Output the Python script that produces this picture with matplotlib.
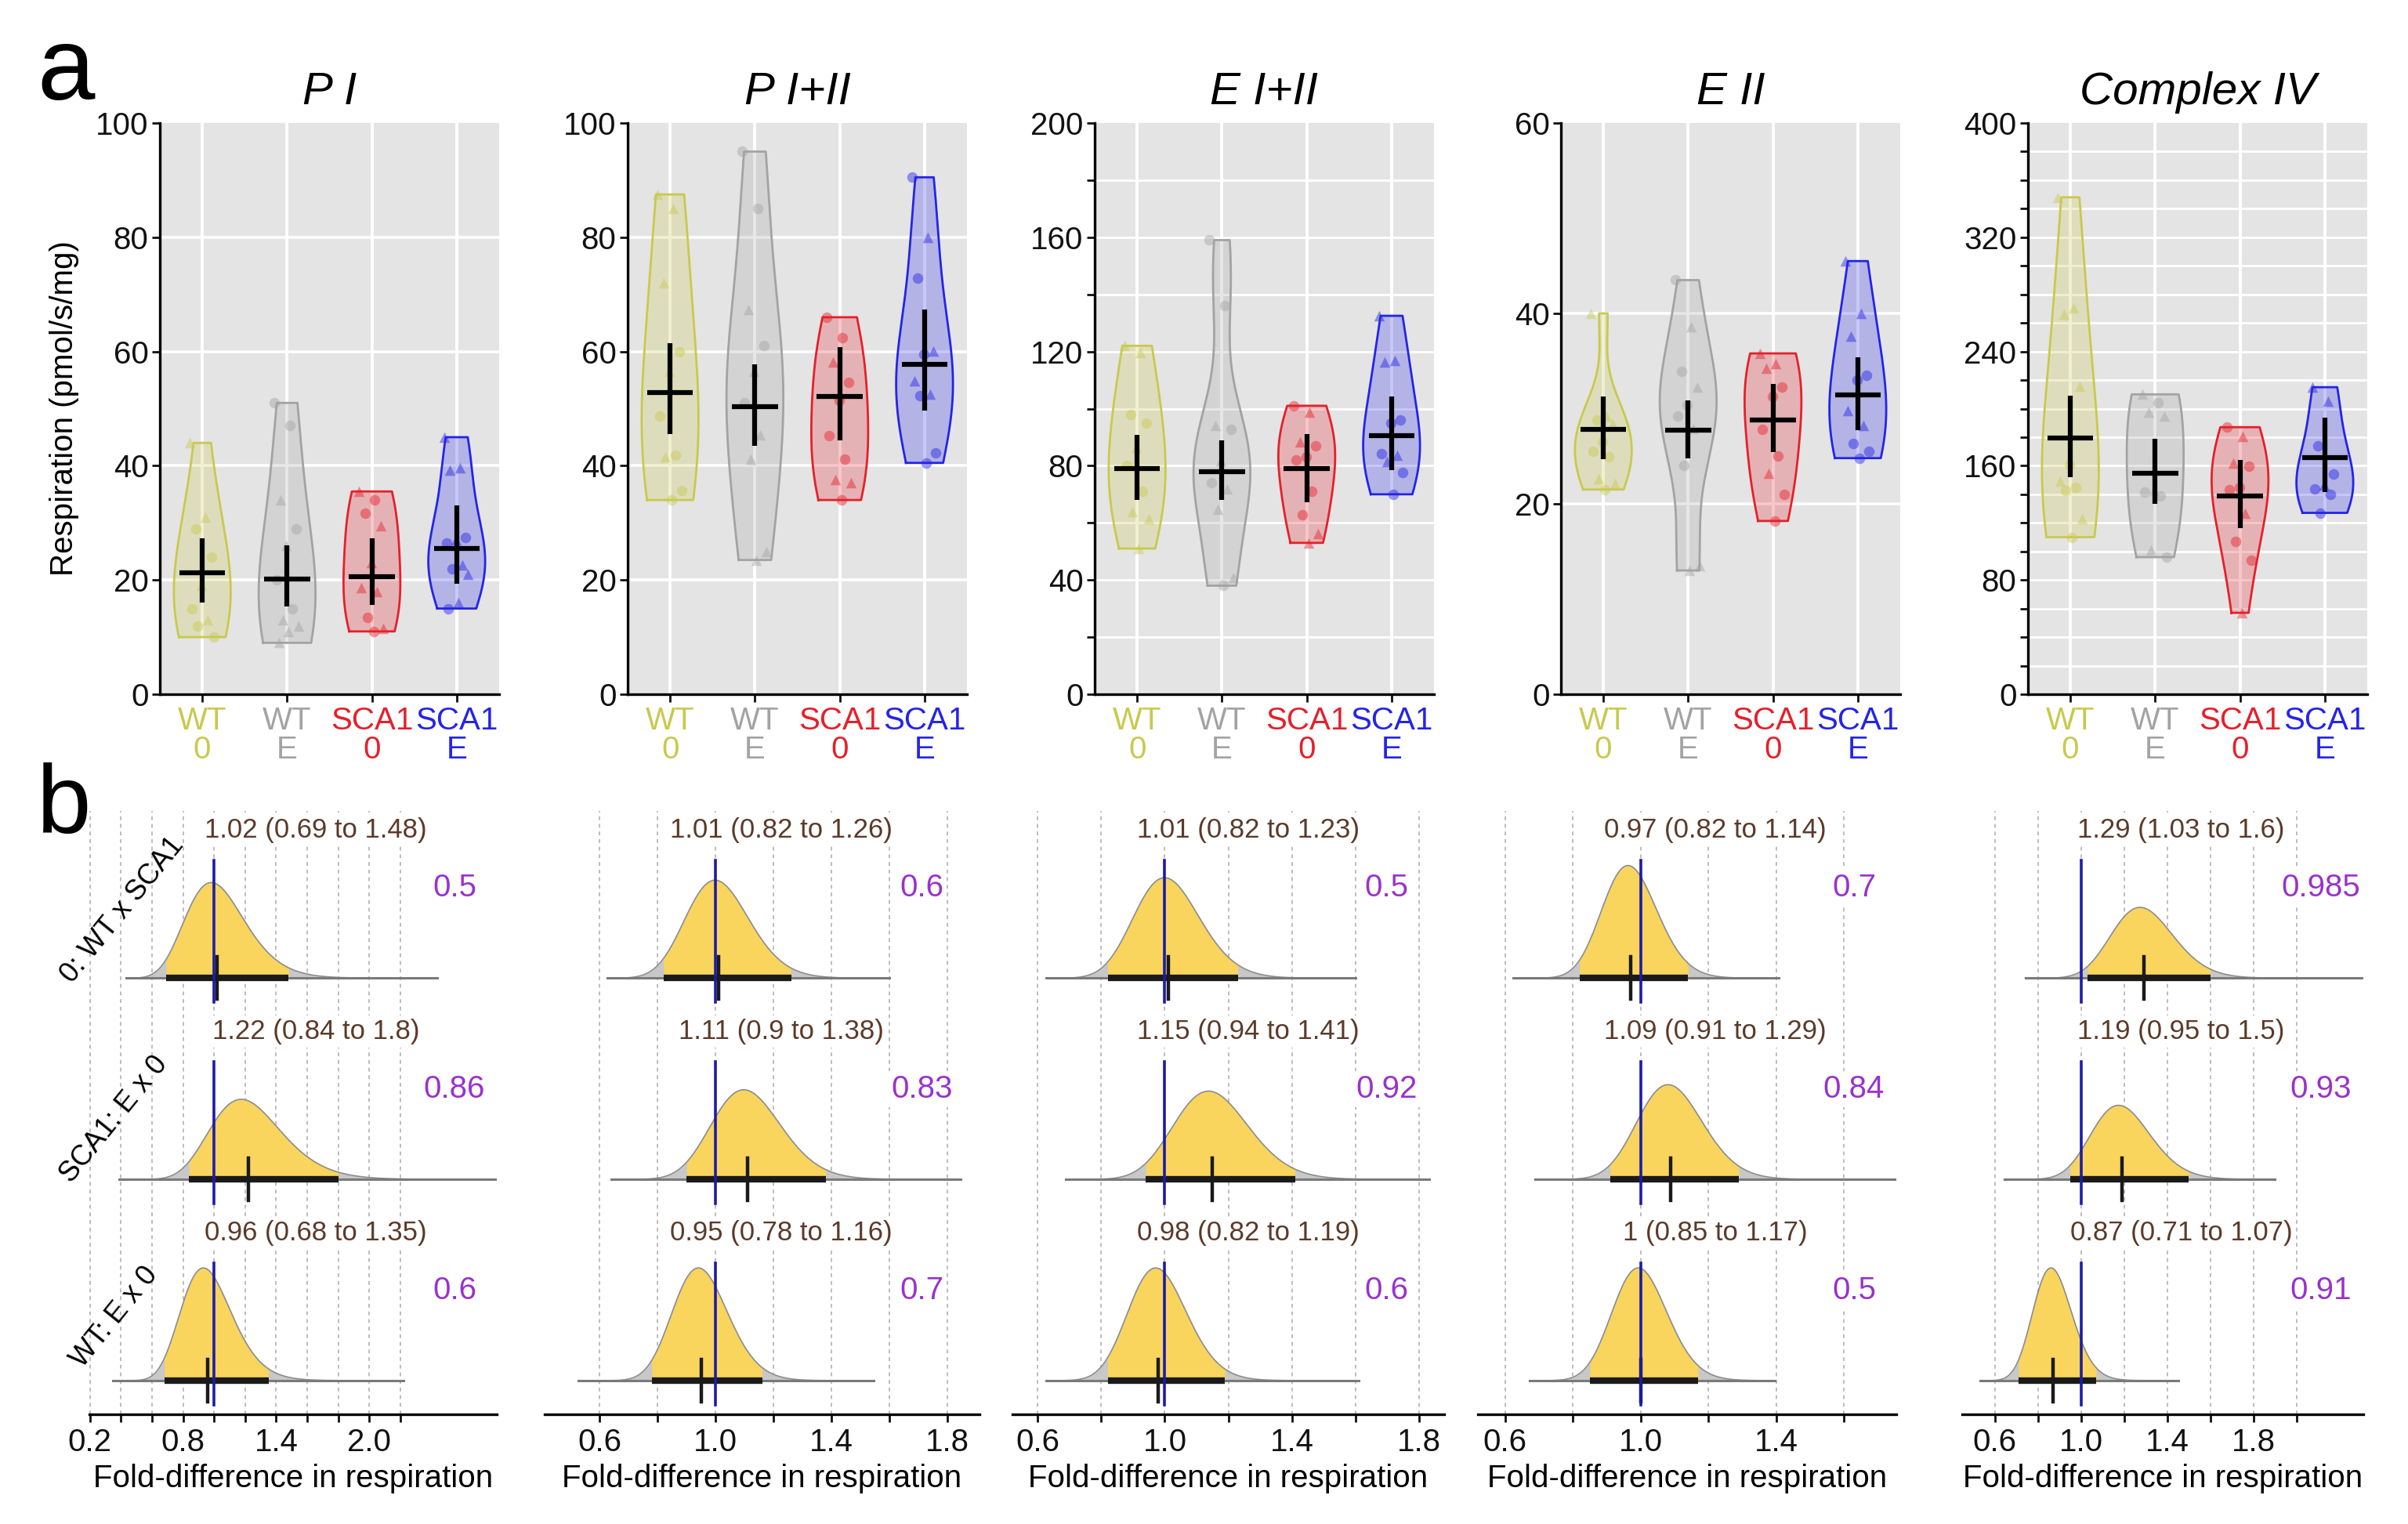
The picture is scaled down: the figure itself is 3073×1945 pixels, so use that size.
import numpy as np
import matplotlib
matplotlib.use("Agg")
import matplotlib.pyplot as plt

plt.rcParams['font.family'] = ['Liberation Sans', 'DejaVu Sans']

# ======================= DATA =======================
panel_titles = ["P I", "P I+II", "E I+II", "E II", "Complex IV"]
group_labels = ["WT\n0", "WT\nE", "SCA1\n0", "SCA1\nE"]
group_colors = ["#C9C94E", "#A3A3A3", "#E5202B", "#2424E8"]

# individual measurements (pmol/s/mg); groups WT0, WT E, SCA1 0, SCA1 E
pI_points = [[44, 31, 29, 24, 19, 15, 13, 12, 10],
             [51, 47, 34, 29, 26, 20, 15, 13, 12, 11, 9],
             [35.5, 34, 31.7, 29.5, 23, 18.6, 18, 13.4, 11.5, 11],
             [45, 39.6, 39.3, 27.5, 27, 26.5, 22.7, 22, 21, 16, 15]]
pI_shapes = ["ttoototoo", "oototootttt", "toottttoto", "tttotototto"]
pI_mean = [21.2, 20.1, 20.6, 25.5]
pI_lo = [16.0, 15.4, 15.7, 19.3]
pI_hi = [27.3, 26.0, 27.3, 33.0]

pI_II_points = [[87.5, 85, 72, 60, 56.5, 48.7, 41.8, 41.5, 35.6, 34],
                [95, 85, 67.3, 61.1, 56.5, 51, 45.4, 41.2, 25, 23.5],
                [66, 62.4, 58.2, 54.6, 51.4, 45.2, 41.2, 37.6, 37, 34],
                [90.5, 80, 72.8, 60.1, 59.5, 54.9, 52.6, 52.3, 42.2, 40.5]]
pI_II_shapes = ["tttotootoo", "ootototttt", "ootooootto", "ototottooo"]
pI_II_mean = [52.8, 50.3, 52.1, 57.7]
pI_II_lo = [45.6, 43.5, 44.5, 49.7]
pI_II_hi = [61.4, 57.8, 60.8, 67.3]

eI_II_points = [[122, 119.6, 98, 94.8, 86.3, 80, 71, 64, 61.5, 51],
                [159, 136, 94.1, 92.8, 81.7, 74, 72, 64.7, 41, 38],
                [101, 98.7, 88.3, 87, 83, 82, 71, 62.8, 56.3, 53],
                [132.5, 117, 116.3, 96.1, 95, 84.2, 83.6, 81.6, 77.6, 70]]
eI_II_shapes = ["ttootoottt", "oototottto", "ottooooott", "tttooottoo"]
eI_II_mean = [78.9, 77.8, 78.9, 90.6]
eI_II_lo = [68.0, 68.0, 67.3, 78.5]
eI_II_hi = [90.9, 88.9, 91.2, 104.2]

eII_points = [[40, 29.2, 28.8, 28.4, 26.5, 25.5, 24.9, 22.6, 22.1, 21.5],
              [43.5, 38.6, 33.9, 32.3, 30.4, 29.2, 27.9, 24, 13.5, 13],
              [35.8, 34.7, 34.2, 32.3, 31.3, 27.8, 25, 23.2, 21, 18.2],
              [45.5, 40, 37.6, 33.5, 33, 29.8, 28.2, 26.3, 25.5, 24.8]]
eII_shapes = ["ttotoootto", "ototootott", "tttooootoo", "tttoottooo"]
eII_mean = [27.8, 27.7, 28.8, 31.4]
eII_lo = [24.7, 24.8, 25.4, 27.7]
eII_hi = [31.3, 30.9, 32.6, 35.4]

civ_points = [[348, 270.6, 266, 215.7, 160.9, 149, 145, 142.5, 122.8, 110],
              [210, 204, 197.6, 195, 142.6, 141.3, 139, 100.7, 96],
              [187, 180.5, 162, 159.6, 145, 143, 126.9, 107, 94, 57],
              [215, 205, 173.9, 154.3, 146.5, 144, 140, 127]]
civ_shapes = ["ttttotooto", "totttooto", "ottoootoot", "ttootooo"]
civ_mean = [179.2, 155.0, 138.7, 165.6]
civ_lo = [151.8, 133.4, 116.4, 141.3]
civ_hi = [209.2, 179.0, 164.0, 193.5]

# y-axis scales of the violin panels: (max, tick step, label step)
violin_scales = [(100, 20, 20), (100, 20, 20), (200, 20, 40), (60, 20, 20), (400, 20, 80)]

# fold-difference comparisons (rows, top to bottom)
comparisons = ["0: WT x SCA1", "SCA1: E x 0", "WT: E x 0"]
fd_est = [[1.02, 1.22, 0.96], [1.01, 1.11, 0.95], [1.01, 1.15, 0.98],
          [0.97, 1.09, 1.00], [1.29, 1.19, 0.87]]
fd_lo = [[0.69, 0.84, 0.68], [0.82, 0.90, 0.78], [0.82, 0.94, 0.82],
         [0.82, 0.91, 0.85], [1.03, 0.95, 0.71]]
fd_hi = [[1.48, 1.80, 1.35], [1.26, 1.38, 1.16], [1.23, 1.41, 1.19],
         [1.14, 1.29, 1.17], [1.60, 1.50, 1.07]]
fd_prob = [[0.5, 0.86, 0.6], [0.6, 0.83, 0.7], [0.5, 0.92, 0.6],
           [0.7, 0.84, 0.5], [0.985, 0.93, 0.91]]
# range of the posterior draws (baseline extent) per row
fd_range = [[(0.436, 2.437), (0.39, 2.82), (0.35, 2.22)],
            [(0.625, 1.598), (0.641, 1.846), (0.527, 1.546)],
            [(0.626, 1.601), (0.689, 1.832), (0.626, 1.61)],
            [(0.624, 1.407), (0.688, 1.753), (0.672, 1.396)],
            [(0.741, 2.306), (0.643, 1.90), (0.531, 1.45)]]
# x axes of the fold-difference panels
fd_ticks = [np.arange(0.2, 2.21, 0.2), np.arange(0.6, 1.81, 0.2), np.arange(0.6, 1.81, 0.2),
            np.arange(0.6, 1.61, 0.2), np.arange(0.6, 2.01, 0.2)]
fd_tick_labels = [[0.2, 0.8, 1.4, 2.0], [0.6, 1.0, 1.4, 1.8], [0.6, 1.0, 1.4, 1.8],
                  [0.6, 1.0, 1.4], [0.6, 1.0, 1.4, 1.8]]

# ======================= LAYOUT =======================
W, H = 3073, 1945
top_lefts = [204, 801, 1397, 1992, 2588]
top_w, top_y0, top_y1 = 433, 157, 886
bot_x = [(114, 634), (695, 1250), (1292, 1843), (1886, 2420), (2504, 3016)]
bot_y0, bot_y1 = 1035, 1805
fd_xlim = [(0.197, 2.82), (0.41, 1.91), (0.52, 1.88), (0.52, 1.755), (0.448, 2.31)]
fd_est_x = [1.655, 1.225, 1.263, 1.22, 1.464]
fd_prob_x = [2.547, 1.711, 1.699, 1.63, 2.112]
VIOLIN_HALF = 0.335
BW_ADJUST = 1.5
PEAK = 0.56

fig = plt.figure(figsize=(W / 100, H / 100), dpi=100)


def px_axes(x0, y0, x1, y1):
    return fig.add_axes([x0 / W, 1 - y1 / H, (x1 - x0) / W, (y1 - y0) / H])


def kde(vals, n=300):
    v = np.asarray(vals, float)
    sd = v.std(ddof=1)
    q75, q25 = np.percentile(v, [75, 25])
    bw = BW_ADJUST * 0.9 * min(sd, (q75 - q25) / 1.34) * len(v) ** -0.2
    grid = np.linspace(v.min(), v.max(), n)
    dens = np.exp(-0.5 * ((grid[:, None] - v[None, :]) / bw) ** 2).sum(1)
    return grid, dens / dens.max()


violin_data = [(pI_points, pI_shapes, pI_mean, pI_lo, pI_hi),
               (pI_II_points, pI_II_shapes, pI_II_mean, pI_II_lo, pI_II_hi),
               (eI_II_points, eI_II_shapes, eI_II_mean, eI_II_lo, eI_II_hi),
               (eII_points, eII_shapes, eII_mean, eII_lo, eII_hi),
               (civ_points, civ_shapes, civ_mean, civ_lo, civ_hi)]

for p in range(5):
    pts, shps, means, los, his = violin_data[p]
    ymax, step, lstep = violin_scales[p]
    x0 = top_lefts[p]
    ax = px_axes(x0, top_y0, x0 + top_w, top_y1)
    ax.set_facecolor('#E4E4E4')
    ax.set_xlim(0.5, 4.5)
    ax.set_ylim(0, ymax)
    ticks = np.arange(0, ymax + 0.1, step)
    ax.set_yticks(ticks)
    ax.set_yticklabels([f"{int(t)}" if int(t) % lstep == 0 else "" for t in ticks])
    ax.set_xticks([1, 2, 3, 4])
    ax.set_xticklabels(group_labels)
    ax.tick_params(axis='both', length=7, width=2, labelsize=29, colors='#111111')
    ax.tick_params(axis='x', pad=4)
    for lbl, c in zip(ax.get_xticklabels(), group_colors):
        lbl.set_color(c)
        lbl.set_linespacing(0.95)
    for s in ['top', 'right']:
        ax.spines[s].set_visible(False)
    for s in ['left', 'bottom']:
        ax.spines[s].set_linewidth(2.4)
    gw = 2.6 if step == lstep else 2.0
    for t in ticks[1:-1]:
        ax.axhline(t, color='white', lw=gw, zorder=0.5)
    for xc in [1, 2, 3, 4]:
        ax.axvline(xc, color='white', lw=2.8, zorder=0.5)

    for i in range(4):
        vals, c, pos = pts[i], group_colors[i], i + 1
        grid, dens = kde(vals)
        half = dens * VIOLIN_HALF
        ax.fill_betweenx(grid, pos - half, pos + half, color=c, alpha=0.25, lw=0, zorder=2)
        xs = np.concatenate([pos - half, (pos + half)[::-1], [pos - half[0]]])
        ys = np.concatenate([grid, grid[::-1], [grid[0]]])
        ax.plot(xs, ys, color=c, lw=2.0, zorder=3)
        n = len(vals)
        jit = ((np.arange(n) * 0.618) % 1.0 - 0.5) * 0.30
        for v, s, j in zip(vals, shps[i], jit):
            ax.scatter(pos + j, v, marker='o' if s == 'o' else '^', s=95, color=c,
                       alpha=0.45, lw=0, zorder=4)
        ax.plot([pos - 0.27, pos + 0.27], [means[i]] * 2, color='black', lw=4.5,
                solid_capstyle='butt', zorder=5)
        ax.plot([pos, pos], [los[i], his[i]], color='black', lw=4.5,
                solid_capstyle='butt', zorder=5)

    ax.text(0.5, 1 + (157 - 118) / 729, panel_titles[p], transform=ax.transAxes,
            ha='center', va='center', fontsize=42, style='italic')

fig.text(82 / W, 1 - 521 / H, "Respiration (pmol/s/mg)", rotation=90, ha='center',
         va='center', fontsize=29)

# ---------------- fold-difference panels ----------------
rows_y = [2, 1, 0]
for p in range(5):
    x0, x1 = bot_x[p]
    ax = px_axes(x0, bot_y0, x1, bot_y1)
    ax.set_xlim(*fd_xlim[p])
    ax.set_ylim(-0.1675, 2.831)
    for s in ['top', 'right', 'left']:
        ax.spines[s].set_visible(False)
    ax.spines['bottom'].set_linewidth(2.4)
    ax.set_yticks([])
    ax.set_xticks(fd_ticks[p])
    ax.set_xticklabels([f"{t:.1f}" if any(abs(t - l) < 1e-6 for l in fd_tick_labels[p]) else ""
                        for t in fd_ticks[p]])
    ax.tick_params(axis='x', length=7, width=2, labelsize=29, pad=5, colors='#111111')
    ax.set_axisbelow(True)
    ax.grid(axis='x', color='#BDBDBD', ls=(0, (2.5, 2.5)), lw=1.4)
    ax.text(0.5, -(1887 - 1805) / 770, "Fold-difference in respiration", transform=ax.transAxes,
            ha='center', va='center', fontsize=29)

    curves = []
    for k in range(3):
        e, lo, hi = fd_est[p][k], fd_lo[p][k], fd_hi[p][k]
        mu = np.log(e)
        sig = (np.log(hi) - np.log(lo)) / (2 * 1.96)
        x = np.union1d(np.linspace(fd_range[p][k][0], fd_range[p][k][1], 500), [lo, hi])
        d = np.exp(-(np.log(x) - mu) ** 2 / (2 * sig ** 2)) / (x * sig * np.sqrt(2 * np.pi))
        curves.append((x, d))
    dmax = max(d.max() for _, d in curves)
    for k, yb in enumerate(rows_y):
        e, lo, hi = fd_est[p][k], fd_lo[p][k], fd_hi[p][k]
        x, d = curves[k]
        h = yb + d / dmax * PEAK
        ax.fill_between(x, yb, h, color='#C8C8C8', lw=0, zorder=2)
        m = (x >= lo - 1e-9) & (x <= hi + 1e-9)
        ax.fill_between(x[m], yb, h[m], color='#F9D55E', lw=0, zorder=3)
        ax.plot(x, h, color='#8C8C8C', lw=1.2, zorder=4)
        ax.plot([x[0], x[-1]], [yb, yb], color='#7A7A7A', lw=2.2, zorder=4)
        ax.plot([lo, hi], [yb, yb], color='#1A1A1A', lw=6, solid_capstyle='butt', zorder=5)
        ax.plot([e, e], [yb - 0.105, yb + 0.105], color='#1A1A1A', lw=3.2, zorder=6)
        ax.plot([1, 1], [yb - 0.12, yb + 0.585], color='#1C1CA6', lw=2.6, zorder=7)
        ax.text(fd_est_x[p], yb + 0.735, f"{e:g} ({lo:g} to {hi:g})", ha='center', va='center',
                fontsize=25, color='#5B3A29', zorder=8,
                bbox=dict(facecolor='white', edgecolor='none', pad=3))
        ax.text(fd_prob_x[p], yb + 0.448, f"{fd_prob[p][k]:g}", ha='center', va='center',
                fontsize=29, color='#9932CC', zorder=8,
                bbox=dict(facecolor='white', edgecolor='none', pad=3))

# comparison labels (rotated)
label_centers = [(156, 1161), (145, 1429), (146, 1681)]
for txt, (cx, cy) in zip(comparisons, label_centers):
    fig.text(cx / W, 1 - cy / H, txt, rotation=51, ha='center', va='center', fontsize=26)

fig.text(47 / W, 1 - 127 / H, "a", fontsize=95, ha='left', va='baseline')
fig.text(47 / W, 1 - 1063 / H, "b", fontsize=90, ha='left', va='baseline')

fig.savefig("out.png", dpi=100)
